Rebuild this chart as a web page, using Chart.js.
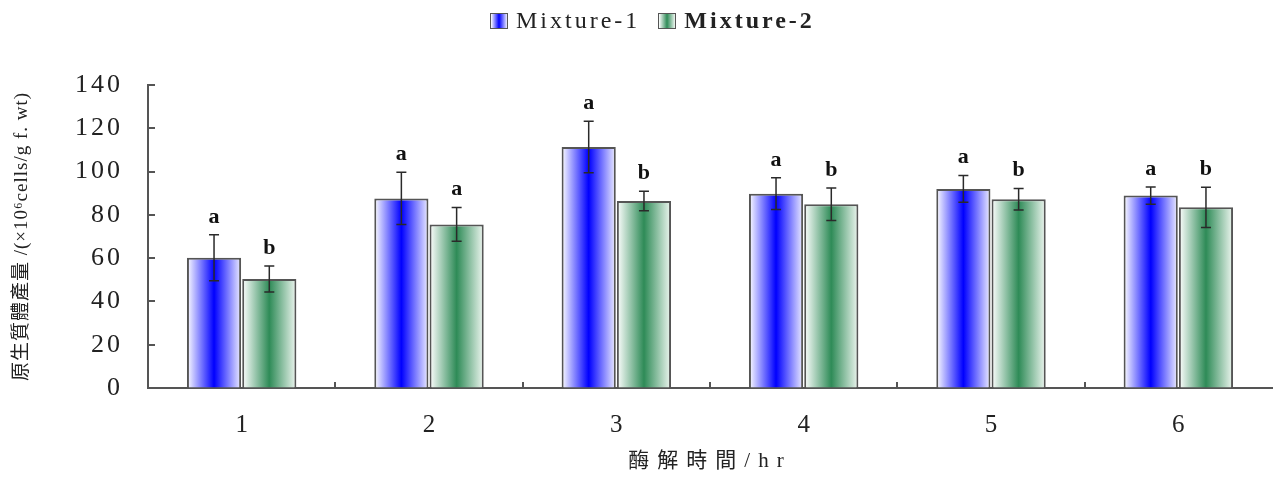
<!DOCTYPE html>
<html>
<head>
<meta charset="utf-8">
<script src="https://cdn.jsdelivr.net/npm/chart.js@4.4.1/dist/chart.umd.min.js"></script>
<style>
  html, body { margin: 0; padding: 0; background: #ffffff; }
  #wrap { position: relative; width: 1277px; height: 477px; }
  #legend { position: absolute; top: 7px; left: 490px; display: flex; align-items: center; font-family: "Liberation Serif", serif; font-size: 24px; color: #222; letter-spacing: 3px; }
  .item { display: flex; align-items: center; margin-right: 18px; }
  .sw { width: 16px; height: 14px; border: 1.5px solid #555; margin-right: 8px; }
</style>
</head>
<body>
<div id="wrap">
  <canvas id="c" width="1277" height="477"></canvas>
  <div id="legend"></div>
</div>
<script>
const categories = ['1', '2', '3', '4', '5', '6'];
const seriesNames = ['Mixture-1', 'Mixture-2'];
const mix1 = [60.2, 87.6, 111.4, 89.8, 92.0, 88.9];
const mix1Err = [10.6, 12.1, 11.9, 7.3, 6.2, 4.0];
const mix2 = [50.4, 75.6, 86.4, 84.9, 87.2, 83.5];
const mix2Err = [6.0, 7.8, 4.5, 7.5, 5.0, 9.3];
const mix1Letters = ['a', 'a', 'a', 'a', 'a', 'a'];
const mix2Letters = ['b', 'a', 'b', 'b', 'b', 'b'];
const yTicks = [0, 20, 40, 60, 80, 100, 120, 140];
const xTitle = '酶解時間/hr';
const yTitle = '原生質體產量 /(×10⁶cells/g f. wt)';

const errors = [mix1Err, mix2Err];
const letters = [mix1Letters, mix2Letters];
const catPct = 0.59, barPct = 0.98;

const gradStops = [
  [[0, '#ffffff'], [0.5, '#0000ff'], [1, '#ececff']],
  [[0, '#ffffff'], [0.5, '#2e8b57'], [1, '#eef6f0']]
];

function barGradient(ctx) {
  const chart = ctx.chart;
  const xs = chart.scales && chart.scales.x;
  const fallback = gradStops[ctx.datasetIndex || 0][1][1];
  if (!xs || typeof ctx.dataIndex !== 'number') return fallback;
  const center = xs.getPixelForValue(ctx.dataIndex);
  const catW = xs.width / categories.length;
  const group = catW * catPct;
  const slot = group / 2;
  const bw = slot * barPct;
  const bc = center - group / 2 + slot * (ctx.datasetIndex + 0.5);
  const x0 = bc - bw / 2, x1 = bc + bw / 2;
  if (!isFinite(x0) || !isFinite(x1) || x1 <= x0) return fallback;
  const g = chart.ctx.createLinearGradient(x0, 0, x1, 0);
  gradStops[ctx.datasetIndex].forEach(s => g.addColorStop(s[0], s[1]));
  return g;
}

// HTML legend (Mixture-2 is bold in the reference)
const legendEl = document.getElementById('legend');
seriesNames.forEach((name, i) => {
  const it = document.createElement('div');
  it.className = 'item';
  const sw = document.createElement('span');
  sw.className = 'sw';
  const st = gradStops[i];
  sw.style.background = 'linear-gradient(to right,' + st.map(s => s[1] + ' ' + (s[0] * 100) + '%').join(',') + ')';
  const tx = document.createElement('span');
  tx.textContent = name;
  if (i === 1) tx.style.fontWeight = 'bold';
  it.appendChild(sw); it.appendChild(tx);
  legendEl.appendChild(it);
});

function spaced(scale, labelSp, titleSp) {
  if (scale._spacedPatched) return;
  scale._spacedPatched = true;
  const dl = scale.drawLabels.bind(scale);
  const dt = scale.drawTitle.bind(scale);
  scale.drawLabels = function (area) { const c = this.ctx; c.save(); c.letterSpacing = labelSp; dl(area); c.restore(); };
  scale.drawTitle = function () { const c = this.ctx; c.save(); c.letterSpacing = titleSp; dt(); c.restore(); };
}

const extras = {
  id: 'extras',
  afterDatasetsDraw(chart) {
    const ctx = chart.ctx;
    const ys = chart.scales.y, xs = chart.scales.x;
    const area = chart.chartArea;
    ctx.save();
    ctx.strokeStyle = '#555';
    ctx.lineWidth = 2;
    ctx.beginPath();
    ys.ticks.forEach(t => {
      const py = Math.round(ys.getPixelForValue(t.value));
      ctx.moveTo(area.left, py); ctx.lineTo(area.left + 7, py);
    });
    const catW = xs.width / categories.length;
    for (let i = 1; i < categories.length; i++) {
      const px = Math.round(xs.getPixelForValue(i) - catW / 2);
      ctx.moveTo(px, area.bottom); ctx.lineTo(px, area.bottom - 6);
    }
    ctx.stroke();
    chart.data.datasets.forEach((ds, di) => {
      const meta = chart.getDatasetMeta(di);
      meta.data.forEach((bar, i) => {
        const v = ds.data[i], e = errors[di][i];
        const top = ys.getPixelForValue(v + e), bot = ys.getPixelForValue(v - e);
        const x = bar.x;
        ctx.strokeStyle = '#2a2a2a';
        ctx.lineWidth = 1.5;
        ctx.beginPath();
        ctx.moveTo(x, top); ctx.lineTo(x, bot);
        ctx.moveTo(x - 5, top); ctx.lineTo(x + 5, top);
        ctx.moveTo(x - 5, bot); ctx.lineTo(x + 5, bot);
        ctx.stroke();
        ctx.fillStyle = '#111';
        ctx.font = 'bold 22px "Liberation Serif", serif';
        ctx.textAlign = 'center';
        ctx.textBaseline = 'alphabetic';
        ctx.fillText(letters[di][i], x, top - 12);
      });
    });
    ctx.restore();
  }
};

new Chart(document.getElementById('c'), {
  type: 'bar',
  data: {
    labels: categories,
    datasets: [
      { label: seriesNames[0], data: mix1, backgroundColor: barGradient, borderColor: '#555', borderWidth: 2, categoryPercentage: catPct, barPercentage: barPct },
      { label: seriesNames[1], data: mix2, backgroundColor: barGradient, borderColor: '#555', borderWidth: 2, categoryPercentage: catPct, barPercentage: barPct }
    ]
  },
  options: {
    responsive: false,
    animation: false,
    devicePixelRatio: 1,
    layout: { padding: { top: 85, left: 7, right: 5, bottom: 0 } },
    plugins: { legend: { display: false }, tooltip: { enabled: false } },
    scales: {
      x: {
        grid: { display: true, drawOnChartArea: false, drawTicks: false, color: 'transparent' },
        border: { display: true, color: '#555', width: 2 },
        ticks: { color: '#222', font: { family: '"Liberation Serif", serif', size: 25 }, padding: 22 },
        title: { display: true, text: xTitle, color: '#222', font: { family: '"Liberation Serif", "Noto Sans CJK TC", serif', size: 21 }, padding: { top: 0, bottom: 3 } },
        afterFit(s) { s.height = 89; },
        afterUpdate(s) { spaced(s, '0px', '8px'); }
      },
      y: {
        min: 0, max: 140,
        afterBuildTicks(s) { s.ticks = yTicks.map(v => ({ value: v })); },
        grid: { display: true, drawOnChartArea: false, drawTicks: false, color: 'transparent' },
        border: { display: true, color: '#555', width: 2 },
        ticks: { color: '#222', font: { family: '"Liberation Serif", serif', size: 26 }, padding: 25 },
        title: { display: true, text: yTitle, color: '#222', font: { family: '"Liberation Serif", "Noto Sans CJK TC", serif', size: 19 }, padding: { top: 4, bottom: 4 } },
        afterFit(s) { s.width = 141; },
        afterUpdate(s) { spaced(s, '3px', '1px'); }
      }
    }
  },
  plugins: [extras]
});
</script>
</body>
</html>
